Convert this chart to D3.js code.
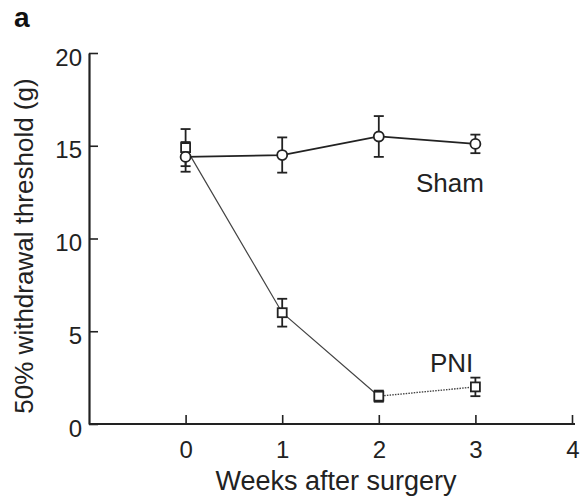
<!DOCTYPE html>
<html>
<head>
<meta charset="utf-8">
<script src="https://cdn.jsdelivr.net/npm/d3@7.9.0/dist/d3.min.js"></script>
<style>
  body { margin: 0; background: #fff; }
  svg { display: block; font-family: "Liberation Sans", Arial, sans-serif; }
</style>
</head>
<body>
<div id="chart"></div>
<script>
// weeks after surgery
const weeks = [0, 1, 2, 3];
// Sham group (circles): mean and error
const shamMean = [14.4, 14.5, 15.5, 15.1];
const shamErr = [0.8, 0.95, 1.1, 0.5];
// PNI group (squares)
const pniMean = [14.9, 6.0, 1.5, 2.0];
const pniErr = [1.0, 0.75, 0.3, 0.5];
const xTicks = [0, 1, 2, 3, 4];
const yTicks = [0, 5, 10, 15, 20];

const width = 580, height = 499;
const svg = d3.select('#chart').append('svg')
  .attr('width', width).attr('height', height);

const x = d3.scaleLinear().domain([-1, 4]).range([89, 572]);
const y = d3.scaleLinear().domain([0, 20]).range([424, 53]);

const ink = '#222';
const font = '"Liberation Sans", Arial, sans-serif';

// axes (ticks point inward)
const xAxis = svg.append('g')
  .attr('transform', `translate(0,${y(0)})`)
  .call(d3.axisBottom(x).tickValues(xTicks).tickFormat(d3.format('d'))
    .tickSize(-9).tickPadding(17).tickSizeOuter(0));
const yAxis = svg.append('g')
  .attr('transform', `translate(${x(-1)},0)`)
  .call(d3.axisLeft(y).tickValues(yTicks).tickFormat(d3.format('d'))
    .tickSize(-9).tickPadding(7).tickSizeOuter(0));

[xAxis, yAxis].forEach(g => {
  g.attr('font-size', null).attr('font-family', null);
  g.select('.domain').attr('stroke', ink).attr('stroke-width', 2.2);
  g.selectAll('.tick line').attr('stroke', ink).attr('stroke-width', 1.6);
  g.selectAll('.tick text').attr('fill', ink)
    .style('font-size', '24px').style('font-family', font);
});
yAxis.selectAll('.tick text').attr('dy', '0.5em');
// extend x-axis line a bit past last tick
xAxis.select('.domain').attr('d', `M${x(-1)},0H${x(4) + 3}`);
// keep the "4" inside the page
xAxis.selectAll('.tick').filter(d => d === 4).select('text')
  .attr('text-anchor', 'end').attr('dx', '0.3em');

// axis titles
svg.append('text')
  .attr('x', 336).attr('y', 490)
  .attr('text-anchor', 'middle')
  .attr('fill', ink).style('font-size', '27px')
  .text('Weeks after surgery');

svg.append('text')
  .attr('transform', `translate(33,246) rotate(-90)`)
  .attr('text-anchor', 'middle')
  .attr('fill', ink).style('font-size', '26px')
  .text('50% withdrawal threshold (g)');

// panel label
svg.append('text')
  .attr('x', 14).attr('y', 27)
  .attr('fill', '#111').style('font-size', '28px').style('font-weight', 'bold')
  .text('a');

const sham = weeks.map((w, i) => ({ w, m: shamMean[i], e: shamErr[i] }));
const pni = weeks.map((w, i) => ({ w, m: pniMean[i], e: pniErr[i] }));

const line = d3.line().x(d => x(d.w)).y(d => y(d.m));

// PNI lines: solid up to week 2, dotted after
svg.append('path').datum(pni.slice(0, 3))
  .attr('d', line).attr('fill', 'none')
  .attr('stroke', '#444').attr('stroke-width', 1.2);
svg.append('path').datum(pni.slice(2))
  .attr('d', line).attr('fill', 'none')
  .attr('stroke', '#444').attr('stroke-width', 1.4)
  .attr('stroke-dasharray', '1.5,1.2');

// Sham line
svg.append('path').datum(sham)
  .attr('d', line).attr('fill', 'none')
  .attr('stroke', ink).attr('stroke-width', 1.8);

function errorBars(data) {
  const g = svg.append('g').attr('stroke', ink).attr('stroke-width', 1.8);
  g.selectAll('line.v').data(data).join('line')
    .attr('x1', d => x(d.w)).attr('x2', d => x(d.w))
    .attr('y1', d => y(d.m - d.e)).attr('y2', d => y(d.m + d.e));
  g.selectAll('line.t').data(data).join('line')
    .attr('x1', d => x(d.w) - 5).attr('x2', d => x(d.w) + 5)
    .attr('y1', d => y(d.m + d.e)).attr('y2', d => y(d.m + d.e));
  g.selectAll('line.b').data(data).join('line')
    .attr('x1', d => x(d.w) - 5).attr('x2', d => x(d.w) + 5)
    .attr('y1', d => y(d.m - d.e)).attr('y2', d => y(d.m - d.e));
}
errorBars(pni);
errorBars(sham);

// PNI squares
svg.append('g').selectAll('rect').data(pni).join('rect')
  .attr('x', d => x(d.w) - 4.5).attr('y', d => y(d.m) - 4.5)
  .attr('width', 9).attr('height', 9)
  .attr('fill', '#fff').attr('stroke', ink).attr('stroke-width', 1.8);

// Sham circles
svg.append('g').selectAll('circle').data(sham).join('circle')
  .attr('cx', d => x(d.w)).attr('cy', d => y(d.m)).attr('r', 5)
  .attr('fill', '#fff').attr('stroke', ink).attr('stroke-width', 1.8);

// group labels
svg.append('text').attr('x', 416).attr('y', 192)
  .attr('fill', ink).style('font-size', '26px').text('Sham');
svg.append('text').attr('x', 430).attr('y', 372)
  .attr('fill', ink).style('font-size', '26px').text('PNI');
</script>
</body>
</html>
